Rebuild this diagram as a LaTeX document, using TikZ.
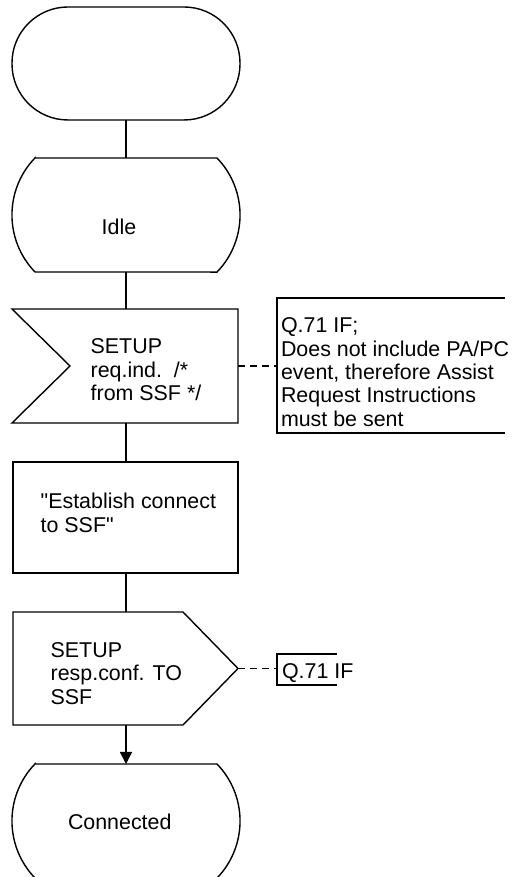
\documentclass[tikz,border=0pt]{standalone}
\usepackage{fontspec}
\newfontfamily\plainfont{Liberation Sans}
\usetikzlibrary{arrows.meta}
\begin{document}
\begin{tikzpicture}[x=1pt,y=1pt,
  line width=1.4pt,
  box/.style={inner sep=0pt, outer sep=0pt, minimum width=#1},
  lbl/.style={inner sep=0pt, outer sep=0pt, anchor=base west, align=left,
    font=\plainfont\fontsize{21.4}{23.3}\selectfont},
  dashline/.style={dash pattern=on 7pt off 5pt, line width=1.8pt}
]
\useasboundingbox (0,0) rectangle (512,877);
% start terminal
\node[box=228pt, minimum height=113pt, draw, rounded corners=56pt] (start) at (126,813.5) {};
% Idle state
\node[box=228pt, minimum height=114pt] (idle) at (126,662) {};
\draw ([xshift=23pt]idle.north west) -- ([xshift=-23pt]idle.north east)
  arc[start angle=44, end angle=-44, radius=82.1pt]
  -- ([xshift=23pt]idle.south west)
  arc[start angle=224, end angle=136, radius=82.1pt] -- cycle;
\node[lbl] (idlet) at (101.7,642) {Idle};
% input
\node[box=226pt, minimum height=114pt] (inp) at (125,511) {};
\draw (inp.north west) -- (inp.north east) -- (inp.south east) -- (inp.south west)
  -- ([xshift=58pt]inp.west) -- cycle;
\node[lbl] (inpt) at (90.7,476.4) {SETUP\\req.ind.\ \ /*\\from SSF */};
% comment 1
\coordinate (c1) at (277,511);
\draw[dashline] (inp.east) -- (c1);
\draw (505,579) -| (277,444) -- (505,444);
\node[lbl] (c1t) at (281,450.8) {Q.71 IF;\\Does not include PA/PC\\event, therefore Assist\\Request Instructions\\must be sent};
% task
\node[box=225pt, minimum height=111pt, draw] (task) at (125.5,359.5) {};
\node[lbl] (taskt) at (40.7,344.7) {"Establish connect\\to SSF"};
% output
\node[box=225pt, minimum height=113pt] (outp) at (125.5,208.5) {};
\draw (outp.north west) -- ([xshift=-55pt]outp.north east) -- (outp.east)
  -- ([xshift=-55pt]outp.south east) -- (outp.south west) -- cycle;
\node[lbl] (outpt) at (50.7,172.7) {SETUP\\resp.conf. TO\\SSF};
% comment 2
\coordinate (c2) at (277,208.5);
\draw[dashline] (outp.east) -- (c2);
\draw (337,223) -| (277,192) -- (337,192);
\node[lbl] (c2t) at (282,198) {Q.71 IF};
% Connected state
\node[box=228pt, minimum height=114pt] (conn) at (126,56) {};
\draw ([xshift=23pt]conn.north west) -- ([xshift=-23pt]conn.north east)
  arc[start angle=44, end angle=-44, radius=82.1pt]
  -- ([xshift=23pt]conn.south west)
  arc[start angle=224, end angle=136, radius=82.1pt] -- cycle;
\node[lbl] (connt) at (68,47) {Connected};
% connectors
\draw (start.south) -- (idle.north);
\draw (idle.south) -- (idle.south |- inp.north);
\draw (idle.south |- inp.south) -- (idle.south |- task.north);
\draw (idle.south |- task.south) -- (idle.south |- outp.north);
\draw[-{Triangle[length=12pt,width=12pt]}] (idle.south |- outp.south) -- (conn.north);
\end{tikzpicture}
\end{document}
